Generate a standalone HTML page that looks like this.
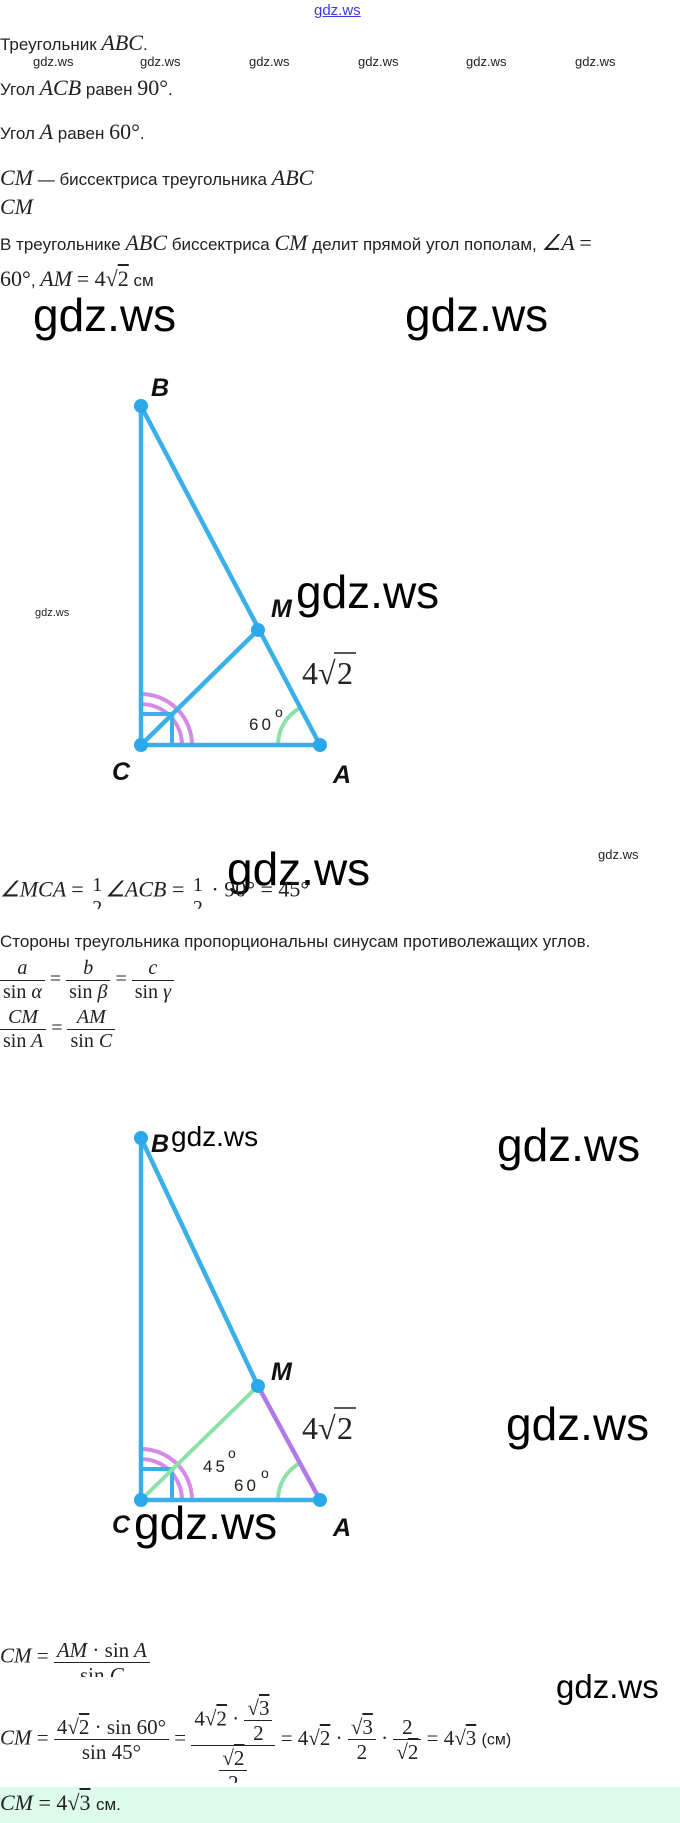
<!DOCTYPE html>
<html><head><meta charset="utf-8">
<style>
body{margin:0;width:680px;height:1823px;background:#fff;position:relative;overflow:hidden;font-family:"Liberation Sans",sans-serif;color:#222}
.a{position:absolute;white-space:nowrap}
.t{font-size:17px}
.m{font-family:"Liberation Serif",serif;font-style:italic;font-size:22px}
.r{font-family:"Liberation Serif",serif;font-style:normal}
.w{font-family:"Liberation Sans",sans-serif;color:#000}
.frac{display:inline-block;vertical-align:middle;text-align:center;line-height:1.15}
.frac .n{display:block;border-bottom:1.3px solid #222;padding:0 3px}
.frac .d{display:block;padding:0 3px}
.sq{text-decoration:overline}
</style></head><body>
<div class="a" style="left:314px;top:2px;font-size:15px;color:#3a3adf;text-decoration:underline">gdz.ws</div>
<div class="a t" style="left:0;top:30px">Треугольник <span class="m">ABC</span>.</div>
<div class="a" style="left:33px;top:54px;font-size:13px">gdz.ws</div>
<div class="a" style="left:140px;top:54px;font-size:13px">gdz.ws</div>
<div class="a" style="left:249px;top:54px;font-size:13px">gdz.ws</div>
<div class="a" style="left:358px;top:54px;font-size:13px">gdz.ws</div>
<div class="a" style="left:466px;top:54px;font-size:13px">gdz.ws</div>
<div class="a" style="left:575px;top:54px;font-size:13px">gdz.ws</div>
<div class="a t" style="left:0;top:75px">Угол <span class="m">ACB</span> равен <span class="m r">90°</span>.</div>
<div class="a t" style="left:0;top:119px">Угол <span class="m">A</span> равен <span class="m r">60°</span>.</div>
<div class="a t" style="left:0;top:165px"><span class="m">CM</span> — биссектриса треугольника <span class="m">ABC</span></div>
<div class="a m" style="left:0;top:194px">CM</div>
<div class="a t" style="left:0;top:230px">В треугольнике <span class="m">ABC</span> биссектриса <span class="m">CM</span> делит прямой угол пополам, <span class="m">∠A</span> <span class="m r">=</span></div>
<div class="a t" style="left:0;top:266px"><span class="m r">60°</span>, <span class="m">AM</span> <span class="m r">= 4√<span class="sq">2</span></span> см</div>
<div class="a w" style="left:33px;top:288px;font-size:46px">gdz.ws</div>
<div class="a w" style="left:405px;top:288px;font-size:46px">gdz.ws</div>

<svg class="a" style="left:0;top:0" width="680" height="1823">
<g stroke-width="4" fill="none">
<path d="M141 704 A41 41 0 0 1 182 745 M141 694 A51 51 0 0 1 192 745" stroke="#d58ae8"/>
<path d="M141 714 H172 V745" stroke="#3bb0e8"/>
<path d="M278 745 A42 42 0 0 1 300 708" stroke="#8de0a8"/>
<path d="M141 406 V745 H320 Z M141 745 L258 630" stroke="#3bb0e8" stroke-width="4.5"/>
<path d="M141 1459 A41 41 0 0 1 182 1500 M141 1449 A51 51 0 0 1 192 1500" stroke="#d58ae8"/>
<path d="M141 1469 H172 V1500" stroke="#3bb0e8"/>
<path d="M278 1500 A42 42 0 0 1 300 1463" stroke="#8de0a8"/>
<path d="M258 1386 L141 1138 V1500 H320" stroke="#3bb0e8" stroke-width="4.5"/>
<path d="M141 1500 L258 1386" stroke="#8de0a8" stroke-width="4"/>
<path d="M258 1386 L320 1500" stroke="#b07be8" stroke-width="4.5"/>
</g>
<g fill="#2aa8ea">
<circle cx="141" cy="406" r="7"/><circle cx="141" cy="745" r="7"/><circle cx="320" cy="745" r="7"/><circle cx="258" cy="630" r="7"/>
<circle cx="141" cy="1138" r="7"/><circle cx="141" cy="1500" r="7"/><circle cx="320" cy="1500" r="7"/><circle cx="258" cy="1386" r="7"/>
</g>
<g font-family="Liberation Sans,sans-serif" font-style="italic" font-weight="bold" font-size="25" fill="#111">
<text x="151" y="396">B</text><text x="271" y="617">M</text><text x="112" y="780">C</text><text x="333" y="783">A</text>
<text x="151" y="1152">B</text><text x="271" y="1380">M</text><text x="112" y="1533">C</text><text x="333" y="1536">A</text>
</g>
<g font-family="Liberation Sans,sans-serif" font-size="17" fill="#222">
<text x="249" y="730" letter-spacing="3">60</text><text x="275" y="717" font-size="14">o</text>
<text x="203" y="1472" letter-spacing="3">45</text><text x="228" y="1458" font-size="14">o</text>
<text x="234" y="1491" letter-spacing="3">60</text><text x="261" y="1478" font-size="14">o</text>
</g>
<g font-family="Liberation Serif,serif" font-size="32" fill="#222">
<text x="302" y="684">4</text><text x="318" y="684">√</text><path d="M334 653 H356" stroke="#222" stroke-width="1.5"/><text x="337" y="684">2</text>
<text x="302" y="1439">4</text><text x="318" y="1439">√</text><path d="M334 1408 H356" stroke="#222" stroke-width="1.5"/><text x="337" y="1439">2</text>
</g>
</svg>
<div class="a" style="left:35px;top:607px;font-size:11px">gdz.ws</div>
<div class="a w" style="left:296px;top:565px;font-size:46px">gdz.ws</div>

<div class="a w" style="left:227px;top:842px;font-size:46px">gdz.ws</div>
<div class="a" style="left:598px;top:847px;font-size:13px">gdz.ws</div>
<div class="a m" style="left:0;top:874px">∠MCA <span class="r">=</span> <span class="frac r" style="font-size:20px"><span class="n" style="border:0">1</span><span class="d" style="height:12px;overflow:hidden">2</span></span>∠ACB <span class="r">=</span> <span class="frac r" style="font-size:20px"><span class="n" style="border:0">1</span><span class="d" style="height:12px;overflow:hidden">2</span></span> <span class="r">· 90° = 45°</span></div>
<div class="a t" style="left:0;top:932px">Стороны треугольника пропорциональны синусам противолежащих углов.</div>
<div class="a m" style="left:0;top:957px;font-size:20px"><span class="frac"><span class="n">a</span><span class="d"><span class="r">sin</span> α</span></span> <span class="r">=</span> <span class="frac"><span class="n">b</span><span class="d"><span class="r">sin</span> β</span></span> <span class="r">=</span> <span class="frac"><span class="n">c</span><span class="d"><span class="r">sin</span> γ</span></span></div>
<div class="a m" style="left:0;top:1006px;font-size:20px"><span class="frac"><span class="n">CM</span><span class="d"><span class="r">sin</span> A</span></span> <span class="r">=</span> <span class="frac"><span class="n">AM</span><span class="d"><span class="r">sin</span> C</span></span></div>

<div class="a w" style="left:171px;top:1121px;font-size:28px">gdz.ws</div>
<div class="a w" style="left:497px;top:1118px;font-size:46px">gdz.ws</div>
<div class="a w" style="left:506px;top:1397px;font-size:46px">gdz.ws</div>
<div class="a w" style="left:134px;top:1496px;font-size:46px">gdz.ws</div>

<div class="a m" style="left:0;top:1638px;font-size:21px">CM <span class="r">=</span> <span class="frac"><span class="n">AM <span class="r">· sin</span> A</span><span class="d" style="height:14px;overflow:hidden"><span class="r">sin</span> C</span></span></div>
<div class="a w" style="left:556px;top:1668px;font-size:33px">gdz.ws</div>
<div class="a m" style="left:0;top:1696px;font-size:21px">CM <span class="r">=</span> <span class="frac r"><span class="n">4√<span class="sq">2</span> · sin 60°</span><span class="d">sin 45°</span></span> <span class="r">=</span> <span class="frac r"><span class="n">4√<span class="sq">2</span> · <span class="frac"><span class="n">√<span class="sq">3</span></span><span class="d">2</span></span></span><span class="d"><span class="frac"><span class="n">√<span class="sq">2</span></span><span class="d" style="height:12px;overflow:hidden">2</span></span></span></span> <span class="r">= 4√<span class="sq">2</span> · <span class="frac"><span class="n" style="border-width:1px">√<span class="sq">3</span></span><span class="d">2</span></span> · <span class="frac"><span class="n">2</span><span class="d">√<span class="sq">2</span></span></span> = 4√<span class="sq">3</span></span> <span style="font-family:'Liberation Sans',sans-serif;font-style:normal;font-size:16px">(см)</span></div>
<div class="a" style="left:0;top:1787px;width:680px;height:36px;background:#dcfbea"></div>
<div class="a m" style="left:0;top:1790px">CM <span class="r">= 4√<span class="sq">3</span></span> <span style="font-family:'Liberation Sans',sans-serif;font-style:normal;font-size:17px">см.</span></div>
</body></html>
